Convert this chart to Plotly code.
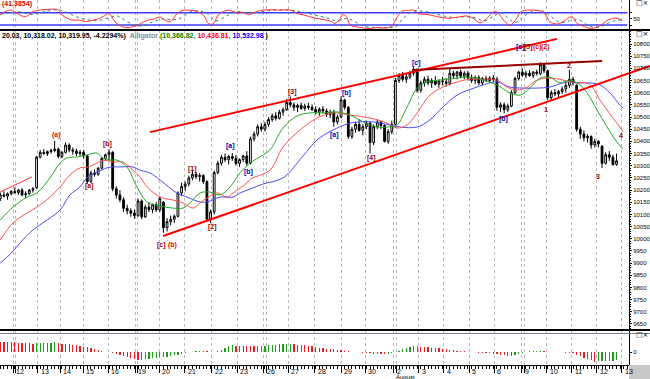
import plotly.graph_objects as go

# ---------------- data ----------------
day_labels = ["12", "13", "14", "15", "16", "19", "20", "21", "22", "23", "26", "27", "28",
              "29", "30", "2", "3", "4", "5", "6", "9", "10", "11", "12", "13"]
day_start = [3.5, 10.3, 16.5, 22.9, 29.8, 37.2, 43.9, 50.9, 58.3, 65.4, 72.7, 79.5, 86.8,
             94.0, 100.7, 108.5, 115.4, 122.3, 129.3, 136.3, 143.8, 150.8, 157.7, 164.6, 171.5]
week_extra = [4.1, 37.8, 73.5, 109.4, 144.6]

open_ = [10165, 10180, 10175, 10185, 10195, 10190, 10200, 10180, 10185, 10200,
         10210, 10335, 10355, 10350, 10358, 10362, 10368, 10338, 10355, 10385,
         10365, 10360, 10350, 10355, 10340, 10235, 10270, 10265, 10290, 10330,
         10345, 10355, 10205, 10180, 10160, 10125, 10115, 10105, 10095, 10155,
         10090, 10130, 10120, 10140, 10118, 10150, 10045, 10070, 10080, 10092,
         10188, 10215, 10225, 10250, 10265, 10255, 10260, 10235, 10080, 10110,
         10272, 10310, 10335, 10325, 10338, 10330, 10310, 10325, 10340, 10310,
         10410, 10430, 10460, 10450, 10470, 10490, 10505, 10495, 10520, 10530,
         10560, 10550, 10540, 10548, 10535, 10545, 10540, 10530, 10520, 10532,
         10525, 10510, 10520, 10480, 10500, 10570, 10540, 10420, 10450, 10470,
         10445, 10460, 10475, 10395, 10460, 10480, 10465, 10400, 10440, 10470,
         10650, 10670, 10655, 10665, 10680, 10695, 10610, 10640, 10655, 10640,
         10650, 10635, 10648, 10645, 10638, 10680, 10670, 10685, 10668, 10680,
         10660, 10650, 10662, 10640, 10658, 10650, 10660, 10655, 10540, 10550,
         10530, 10545, 10600, 10658, 10685, 10672, 10680, 10670, 10685, 10678,
         10715, 10690, 10580, 10600, 10595, 10605, 10615, 10630, 10655, 10630,
         10450, 10430, 10415, 10420, 10385, 10400, 10380, 10310, 10345, 10335,
         10305]
high_ = [10190, 10195, 10190, 10200, 10210, 10205, 10208, 10195, 10205, 10212,
         10340, 10365, 10368, 10362, 10370, 10402, 10375, 10360, 10395, 10392,
         10375, 10370, 10365, 10365, 10345, 10280, 10285, 10295, 10335, 10350,
         10368, 10360, 10215, 10200, 10170, 10140, 10125, 10120, 10165, 10162,
         10140, 10150, 10145, 10150, 10175, 10155, 10085, 10095, 10100, 10195,
         10230, 10235, 10260, 10280, 10275, 10270, 10265, 10240, 10120, 10280,
         10320, 10345, 10350, 10345, 10352, 10345, 10330, 10345, 10360, 10420,
         10440, 10470, 10475, 10480, 10500, 10515, 10520, 10530, 10540, 10575,
         10585, 10560, 10555, 10560, 10555, 10558, 10552, 10545, 10540, 10545,
         10535, 10530, 10530, 10510, 10585, 10575, 10545, 10460, 10480, 10490,
         10470, 10485, 10480, 10470, 10490, 10485, 10470, 10450, 10485, 10660,
         10680, 10685, 10678, 10690, 10705, 10700, 10650, 10665, 10670, 10660,
         10668, 10655, 10665, 10660, 10700, 10690, 10690, 10695, 10688, 10690,
         10675, 10670, 10672, 10665, 10670, 10668, 10672, 10665, 10560, 10560,
         10555, 10610, 10665, 10690, 10700, 10690, 10692, 10688, 10695, 10725,
         10722, 10695, 10610, 10615, 10612, 10625, 10645, 10695, 10665, 10635,
         10460, 10445, 10430, 10425, 10410, 10405, 10385, 10355, 10360, 10345,
         10350]
low_ = [10155, 10170, 10160, 10178, 10185, 10180, 10175, 10168, 10180, 10190,
        10205, 10330, 10345, 10340, 10350, 10355, 10330, 10330, 10350, 10355,
        10345, 10340, 10338, 10330, 10225, 10228, 10255, 10258, 10285, 10320,
        10320, 10195, 10165, 10150, 10110, 10100, 10090, 10082, 10090, 10080,
        10085, 10110, 10105, 10110, 10110, 10025, 10030, 10055, 10065, 10088,
        10175, 10195, 10215, 10240, 10245, 10235, 10225, 10070, 10065, 10100,
        10265, 10300, 10315, 10305, 10320, 10300, 10295, 10315, 10300, 10305,
        10400, 10420, 10440, 10440, 10460, 10480, 10485, 10490, 10505, 10525,
        10540, 10525, 10520, 10530, 10525, 10530, 10525, 10510, 10505, 10515,
        10500, 10495, 10460, 10470, 10495, 10530, 10410, 10410, 10435, 10440,
        10425, 10450, 10350, 10385, 10450, 10450, 10395, 10390, 10430, 10465,
        10640, 10645, 10640, 10655, 10670, 10600, 10600, 10625, 10630, 10620,
        10630, 10620, 10630, 10625, 10630, 10660, 10655, 10660, 10655, 10650,
        10640, 10635, 10630, 10632, 10645, 10640, 10645, 10525, 10520, 10515,
        10520, 10540, 10595, 10650, 10665, 10660, 10665, 10660, 10670, 10672,
        10680, 10570, 10570, 10585, 10580, 10595, 10600, 10620, 10630, 10440,
        10410, 10400, 10395, 10370, 10375, 10375, 10290, 10305, 10320, 10300,
        10300]
close_ = [10180, 10175, 10185, 10195, 10190, 10200, 10180, 10185, 10200, 10205,
          10335, 10355, 10350, 10358, 10362, 10368, 10338, 10355, 10385, 10365,
          10360, 10350, 10355, 10340, 10235, 10270, 10265, 10290, 10330, 10345,
          10355, 10205, 10180, 10160, 10125, 10115, 10105, 10095, 10155, 10090,
          10130, 10120, 10140, 10118, 10165, 10045, 10070, 10080, 10092, 10188,
          10215, 10225, 10250, 10265, 10255, 10260, 10235, 10080, 10110, 10272,
          10310, 10335, 10325, 10338, 10330, 10310, 10325, 10340, 10310, 10410,
          10430, 10460, 10450, 10470, 10490, 10505, 10495, 10520, 10530, 10560,
          10550, 10540, 10548, 10535, 10545, 10540, 10530, 10520, 10532, 10525,
          10510, 10520, 10480, 10500, 10570, 10540, 10420, 10450, 10470, 10445,
          10460, 10475, 10395, 10460, 10480, 10465, 10400, 10440, 10470, 10650,
          10670, 10655, 10665, 10680, 10695, 10610, 10640, 10655, 10640, 10650,
          10635, 10648, 10645, 10638, 10680, 10670, 10685, 10668, 10680, 10660,
          10650, 10662, 10640, 10658, 10650, 10660, 10655, 10540, 10550, 10530,
          10545, 10600, 10658, 10685, 10672, 10680, 10670, 10685, 10678, 10715,
          10690, 10580, 10600, 10595, 10605, 10615, 10630, 10655, 10640, 10450,
          10430, 10415, 10420, 10385, 10400, 10390, 10310, 10345, 10335, 10305,
          10320]

# Alligator lines
jaw_x = [0, 3, 5.4, 9, 12.9, 16.5, 19.2, 22, 23.9, 26.7, 29.4, 31.1, 33, 36.6, 38.5, 41.3, 44.1,
         48.7, 51.5, 55.1, 57, 60.6, 64.2, 66.1, 68.9, 72.5, 78, 83.5, 87.4, 91.8, 96.5, 99.2,
         102.8, 107.5, 110.3, 115, 118.5, 122.1, 126, 131.5, 137, 140.6, 144.2, 148.1, 151.6,
         156.3, 159.9, 162.7, 165.4, 168.2, 170.9, 171.8]
jaw_y = [9900, 9941, 9982, 10036, 10077, 10118, 10180, 10213, 10250, 10274, 10291, 10295, 10295,
         10295, 10282, 10270, 10241, 10188, 10171, 10151, 10151, 10171, 10171, 10188, 10204,
         10225, 10250, 10340, 10406, 10447, 10475, 10480, 10480, 10467, 10459, 10459, 10488,
         10541, 10590, 10623, 10644, 10623, 10619, 10619, 10623, 10644, 10640, 10640, 10632,
         10599, 10549, 10537]
teeth_x = [0, 3.5, 7.4, 10.1, 13.7, 16.5, 19.2, 22, 24.2, 26.7, 28.3, 31.1, 33.8, 36.6, 38.5,
           40.5, 44.1, 47.6, 50.4, 53.2, 55.1, 57, 59.8, 62.5, 64.2, 68, 69, 74.4, 78, 82.7,
           87.4, 91.8, 96.5, 102, 106.7, 109.4, 112.2, 115, 118.5, 122.1, 126, 129.6, 133.2,
           137, 139.8, 142.5, 145.3, 148.1, 151.6, 155.2, 158.5, 161.9, 163.5, 165.4, 167.4,
           169, 170.9, 171.8]
teeth_y = [9995, 10065, 10106, 10130, 10171, 10213, 10262, 10291, 10295, 10311, 10323, 10315,
           10315, 10282, 10254, 10213, 10171, 10159, 10147, 10126, 10147, 10167, 10188, 10171,
           10188, 10229, 10245, 10282, 10377, 10447, 10496, 10517, 10508, 10496, 10475, 10455,
           10467, 10517, 10590, 10623, 10644, 10656, 10656, 10652, 10623, 10611, 10623, 10652,
           10660, 10652, 10640, 10640, 10619, 10570, 10529, 10496, 10459, 10438]
lips_x = [0, 3.5, 7.4, 10.1, 13.7, 16.5, 18.4, 21.2, 23.9, 26.7, 28.3, 30.3, 32.2, 34.9, 37.7,
          40.5, 44.1, 47.6, 50.4, 52.3, 55.1, 57.8, 60.6, 63.4, 66.1, 68.9, 72.5, 74.4, 78,
          81.8, 85.4, 89, 92.9, 96.5, 100.1, 103.9, 106.7, 109.4, 112.2, 115, 117.7, 121.3,
          126, 129.6, 133.2, 137, 140.6, 143.4, 146.1, 148.9, 151.6, 154.4, 157.2, 159.9,
          161.9, 164.6, 167.4, 170.1, 171.8]
lips_y = [10077, 10130, 10171, 10188, 10250, 10311, 10332, 10336, 10344, 10352, 10332, 10323,
          10323, 10295, 10213, 10151, 10134, 10126, 10126, 10147, 10188, 10192, 10180, 10213,
          10270, 10311, 10344, 10365, 10455, 10504, 10517, 10517, 10521, 10508, 10480, 10459,
          10459, 10467, 10541, 10619, 10644, 10652, 10660, 10664, 10652, 10632, 10599, 10590,
          10619, 10660, 10664, 10640, 10652, 10632, 10599, 10529, 10459, 10397, 10369]

# drawn trend lines (bar index, price)
upper_x, upper_y = [41.3, 153.6], [10438, 10821]
lower_x, lower_y = [44.9, 179.2], [10011, 10710]
top_x, top_y = [113.6, 166.0], [10693, 10730]
small_x, small_y = [0, 8.7], [10192, 10254]

# stochastic oscillator (top panel)
stoch_x = [0, 0.8, 2.7, 4, 5.4, 6.8, 8.2, 9, 11, 13.7, 16, 17, 18.4, 19.8, 22, 23.4, 24.7, 26.7,
           28, 29.4, 29.7, 30.8, 31.6, 33.6, 35.2, 36.6, 38, 39.1, 40.7, 42.1, 44.1, 45.4, 46.8,
           47.6, 48.7, 50.1, 51.5, 53.2, 55.1, 56.5, 57.3, 58.7, 60.1, 61.5, 62.5, 64, 65.5, 67,
           68.5, 70, 71.5, 73, 75, 77, 79, 80.5, 82, 83.5, 85, 86.5, 88, 89.5, 91, 92.3, 93.5,
           94.5, 95.5, 96.5, 98, 100, 102, 104, 106, 108, 109.5, 111, 112.5, 114, 115.5, 117,
           118.5, 121.3, 124, 126.8, 128.7, 130.4, 132.3, 133.7, 135.6, 136.5, 137.8, 139.2,
           140.6, 142, 143.4, 144.2, 146.1, 148.9, 150.3, 151.6, 153.6, 155.2, 157.7, 159.1,
           160.7, 162.7, 164.6, 166.3, 168.2, 170.1, 171.5]
stoch_k = [69, 80, 93, 85, 69, 60, 74, 85, 93, 97, 93, 69, 54, 44, 44, 36, 41, 48, 58, 74, 80,
           60, 36, 12, 7, 12, 20, 31, 44, 48, 58, 44, 36, 48, 74, 90, 93, 90, 80, 58, 28, 25,
           69, 85, 92, 88, 78, 82, 70, 80, 90, 93, 95, 92, 95, 90, 75, 70, 62, 55, 50, 45, 40,
           28, 45, 70, 60, 20, 12, 6, 3, 8, 5, 15, 60, 88, 90, 93, 75, 72, 69, 58, 53, 60, 64,
           53, 31, 44, 77, 88, 69, 36, 20, 41, 80, 90, 93, 88, 74, 36, 25, 36, 60, 28, 15, 4,
           9, 28, 48, 53, 41]
signal_x = [0, 3, 5.5, 8, 10, 13, 16, 18.5, 21, 24, 27, 30, 32, 34, 36.5, 39, 42, 45, 47.5, 50,
            52.5, 55, 57.5, 59.5, 62, 65, 68, 71, 74, 78, 82, 86, 90, 93, 95.5, 97.5, 100, 103,
            106, 109, 111, 113.5, 116, 119, 122, 125, 128, 131, 133.5, 136, 138, 140, 142, 144,
            146.5, 149.5, 152, 154.5, 157, 159.5, 162, 164, 166, 168.5, 171.5]
signal_d = [72, 80, 84, 72, 75, 88, 94, 80, 60, 45, 42, 55, 65, 48, 22, 15, 35, 50, 45, 55, 85,
            88, 72, 40, 60, 85, 80, 82, 90, 93, 88, 72, 55, 40, 52, 40, 15, 8, 7, 12, 50, 85,
            88, 80, 65, 57, 60, 55, 40, 62, 80, 55, 32, 55, 85, 90, 60, 32, 40, 45, 20, 8, 14,
            35, 47]
stoch_levels = [20, 80]

# histogram oscillator (bottom panel)
hist = [108, 106, 104, 103, 100, 97, 95, 92, 90, 88,
        90, 93, 95, 97, 98, 99, 92, 86, 83, 80,
        75, 70, 64, 58, 50, 42, 34, 20, 12, 6,
        8, -5, -15, -25, -35, -45, -55, -65, -75, -72,
        -68, -64, -60, -55, -50, -46, -42, -36, -30, -22,
        -14, -6, 4, 8, 12, 15, 17, 13, 8, 5,
        12, 28, 45, 60, 70, 68, 66, 65, 63, 62,
        60, 61, 63, 65, 70, 74, 77, 80, 82, 83,
        84, 80, 77, 74, 71, 66, 60, 54, 47, 42,
        38, 34, 30, 26, 22, 16, 10, 4, 1, 3,
        -2, -6, -10, -14, -12, -15, -18, -14, -8, 5,
        18, 30, 42, 52, 60, 63, 58, 55, 51, 47,
        43, 40, 37, 32, 27, 22, 17, 13, 9, 6,
        3, -1, -4, -6, -8, -10, -12, -18, -24, -30,
        -35, -37, -30, -15, -2, 6, 10, 12, 13, 14,
        12, 8, 6, 4, 2, 0, -2, -4, -10, -25,
        -40, -55, -68, -78, -92, -90, -88, -86, -84, -82,
        -80]

wave_text = ["(a)", "[a]", "[b]", "[c]", "(b)", "[1]", "[2]", "[a]", "[b]", "[3]", "[a]", "[b]",
             "[4]", "[c]", "[b]", "[c]", "[5]", "(c)", "(2)", "1", "2", "3", "4"]
wave_x = [15.6, 24.5, 29.7, 44.6, 47.6, 52.9, 58.4, 63.4, 68.6, 80.7, 92.3, 95.4, 102.5, 114.7,
          138.7, 143.6, 145.8, 148.2, 150.5, 150.5, 156.9, 164.9, 171.2]
wave_y = [10426, 10217, 10389, 9974, 9974, 10287, 10048, 10381, 10274, 10603, 10426, 10599,
          10332, 10722, 10492, 10788, 10788, 10788, 10788, 10529, 10710, 10254, 10426]
wave_kind = ["r", "d", "d", "d", "r", "d", "d", "b", "b", "d", "b", "b", "d", "b", "b", "b", "d",
             "r", "r", "d", "d", "d", "d"]

price_ticks = list(range(9650, 10801, 50))

# ---------------- figure ----------------
FONT = "Liberation Sans Narrow, Arial Narrow, Liberation Sans, sans-serif"
KIND_COLOR = {"r": "#ee0000", "d": "#990000", "b": "#0000bb"}
XR = [-0.0855, 179.23]
YPOS = 629 / 650
H = 365.0


def pfrac(px):
    return (H - px) / H


bar_idx = list(range(len(close_)))
grid_vals = sorted(day_start + week_extra)

fig = go.Figure()

# top panel: stochastic
for lv in stoch_levels:
    fig.add_trace(go.Scatter(x=[XR[0], 173.0], y=[lv, lv], mode="lines",
                             line=dict(color="#3c3cff", width=1.6), xaxis="x", yaxis="y",
                             hoverinfo="skip"))
fig.add_trace(go.Scatter(x=signal_x, y=signal_d, mode="lines", line_shape="spline",
                         line=dict(color="#3f7f7f", width=1, dash="dot"), xaxis="x", yaxis="y",
                         hoverinfo="skip"))
fig.add_trace(go.Scatter(x=stoch_x, y=stoch_k, mode="lines", line_shape="spline",
                         line=dict(color="#ff3030", width=1), xaxis="x", yaxis="y",
                         hoverinfo="skip"))

# main panel: alligator + candles + trend lines
fig.add_trace(go.Scatter(x=jaw_x, y=jaw_y, mode="lines", line_shape="spline",
                         line=dict(color="#4b4bff", width=1), xaxis="x2", yaxis="y2", hoverinfo="skip"))
fig.add_trace(go.Scatter(x=teeth_x, y=teeth_y, mode="lines", line_shape="spline",
                         line=dict(color="#ff5050", width=1), xaxis="x2", yaxis="y2", hoverinfo="skip"))
fig.add_trace(go.Scatter(x=lips_x, y=lips_y, mode="lines", line_shape="spline",
                         line=dict(color="#22aa22", width=1), xaxis="x2", yaxis="y2", hoverinfo="skip"))
fig.add_trace(go.Candlestick(x=bar_idx, open=open_, high=high_, low=low_, close=close_,
                             xaxis="x2", yaxis="y2", whiskerwidth=0,
                             increasing=dict(line=dict(color="black", width=1), fillcolor="white"),
                             decreasing=dict(line=dict(color="black", width=1), fillcolor="black"),
                             hoverinfo="skip"))
for lx, ly, col, w in [(upper_x, upper_y, "#ff0000", 2), (lower_x, lower_y, "#ff0000", 2),
                       (top_x, top_y, "#990000", 2), (small_x, small_y, "#ff3030", 1)]:
    fig.add_trace(go.Scatter(x=lx, y=ly, mode="lines", line=dict(color=col, width=w),
                             xaxis="x2", yaxis="y2", hoverinfo="skip"))

# bottom panel: histogram
hist_colors = ["#19a019" if (k > 0 and hist[k] > hist[k - 1]) else "#ee1c1c" for k in range(len(hist))]
fig.add_trace(go.Bar(x=bar_idx, y=hist, marker=dict(color=hist_colors, line=dict(width=0)),
                     width=0.32, xaxis="x3", yaxis="y3", hoverinfo="skip"))

axis_font = dict(family=FONT, size=6, color="black")
xcommon = dict(range=XR, domain=[0, 1], tickmode="array", tickvals=grid_vals, showgrid=True,
               gridcolor="#b8b8b8", griddash="dot", gridwidth=1, zeroline=False,
               showticklabels=False, automargin=False, fixedrange=True)

annotations = []
for t, x, y, k in zip(wave_text, wave_x, wave_y, wave_kind):
    annotations.append(dict(x=x, y=y, xref="x2", yref="y2", text="<b>%s</b>" % t, showarrow=False,
                            font=dict(family=FONT, size=7, color=KIND_COLOR[k])))
for lab, pos in zip(day_labels, day_start):
    annotations.append(dict(x=pos, y=0, xref="x3", yref="paper", text=lab, showarrow=False,
                            xanchor="left", yanchor="top", xshift=1, yshift=-1,
                            font=dict(family=FONT, size=7, color="black")))
annotations.append(dict(x=day_start[15], y=0, xref="x3", yref="paper", text="August",
                        showarrow=False, xanchor="left", yanchor="top", xshift=0, yshift=-7,
                        font=dict(family=FONT, size=6, color="black")))
header = ("<b>20.03, 10,318.02, 10,319.95, -4.2294%)</b>  "
          "<span style='color:#8c8c8c'><b>Alligator</b></span> "
          "<span style='color:#008000'><b>(10,366.82,</b></span> "
          "<span style='color:#ff0000'><b>10,436.81,</b></span> "
          "<span style='color:#0000ff'><b>10,532.98</b></span> <b>)</b>")
annotations.append(dict(x=0, y=pfrac(36), xref="paper", yref="paper", text=header,
                        showarrow=False, xanchor="left", yanchor="middle",
                        font=dict(family=FONT, size=7, color="black")))
annotations.append(dict(x=0, y=pfrac(4), xref="paper", yref="paper", text="<b>(41.3854)</b>",
                        showarrow=False, xanchor="left", yanchor="middle",
                        font=dict(family=FONT, size=7, color="#dd0000")))
for py in [3, 34, 335]:
    annotations.append(dict(x=1, y=pfrac(py), xref="paper", yref="paper", text="□×",
                            showarrow=False, xanchor="right", yanchor="middle",
                            font=dict(family="DejaVu Sans", size=7, color="black")))

shapes = [
    dict(type="line", xref="paper", yref="paper", x0=0, x1=1, y0=pfrac(30), y1=pfrac(30),
         line=dict(color="black", width=2)),
    dict(type="line", xref="paper", yref="paper", x0=0, x1=1, y0=pfrac(330), y1=pfrac(330),
         line=dict(color="black", width=2)),
    dict(type="line", xref="paper", yref="paper", x0=0, x1=1, y0=pfrac(333.5), y1=pfrac(333.5),
         line=dict(color="#8080a0", width=1)),
    dict(type="rect", xref="paper", yref="paper", x0=YPOS, x1=1, y0=-14 / H, y1=0,
         fillcolor="#c8c8c8", line=dict(width=0)),
]

yright = dict(anchor="free", position=YPOS, side="right", showline=True, linecolor="black",
              linewidth=1, ticks="outside", ticklen=2, tickcolor="black", showgrid=False,
              zeroline=False, tickfont=axis_font, automargin=False, fixedrange=True)

fig.update_layout(
    template="none", width=650, height=379, margin=dict(l=0, r=0, t=0, b=14),
    paper_bgcolor="white", plot_bgcolor="white", showlegend=False, bargap=0,
    xaxis=dict(**xcommon, anchor="y"),
    xaxis2=dict(**xcommon, anchor="y2", matches="x", rangeslider=dict(visible=False)),
    xaxis3=dict(**xcommon, anchor="y3", matches="x", showline=True, linecolor="black",
                ticks="outside", ticklen=7, tickcolor="black",
                minor=dict(ticks="outside", ticklen=3, tickcolor="black", tick0=0, dtick=1,
                           showgrid=False)),
    yaxis=dict(**yright, domain=[pfrac(30), 1], range=[-4.39, 141.95], tickmode="array",
               tickvals=[20, 50, 80], ticktext=["", "50", ""]),
    yaxis2=dict(**yright, domain=[pfrac(330), pfrac(30)], range=[9625.1, 10857.5],
                tickmode="array", tickvals=price_ticks, ticktext=[str(v) for v in price_ticks],
                minor=dict(ticks="outside", ticklen=1, tickcolor="black", dtick=10, tick0=0)),
    yaxis3=dict(**yright, domain=[0, pfrac(331)], range=[-127, 213], tickmode="array",
                tickvals=[0], ticktext=["0"]),
    annotations=annotations, shapes=shapes,
)

fig.write_html("out.html", config={"displayModeBar": False, "staticPlot": True},
               post_script="document.body.style.margin='0';document.body.style.overflow='hidden';")
